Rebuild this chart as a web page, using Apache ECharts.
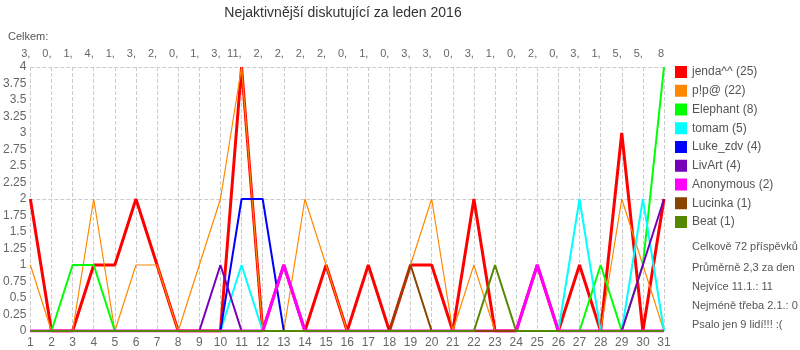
<!DOCTYPE html>
<html><head><meta charset="utf-8">
<script src="https://cdn.jsdelivr.net/npm/echarts@6/dist/echarts.min.js"></script>
<style>html,body{margin:0;padding:0;background:#fff}#c{width:800px;height:350px}</style>
</head><body><div id="c"></div>
<script>
const days = ['1','2','3','4','5','6','7','8','9','10','11','12','13','14','15','16','17','18','19','20','21','22','23','24','25','26','27','28','29','30','31'];
const totals = [3,0,1,4,1,3,2,0,1,3,11,2,2,2,2,0,1,0,3,3,0,3,1,0,2,0,3,1,5,5,8];
const names = ['jenda^^','p!p@','Elephant','tomam','Luke_zdv','LivArt','Anonymous','Lucinka','Beat'];
const jenda    = [2,0,0,1,1,2,1,0,0,0,4,0,1,0,1,0,1,0,1,1,0,2,0,0,1,0,1,0,3,0,2];
const pip      = [1,0,0,2,0,1,1,0,1,2,4,0,0,2,1,0,0,0,1,2,0,1,0,0,0,0,0,0,2,1,0];
const elephant = [0,0,1,1,0,0,0,0,0,0,0,0,0,0,0,0,0,0,0,0,0,0,0,0,0,0,0,1,0,1,4];
const tomam    = [0,0,0,0,0,0,0,0,0,0,1,0,0,0,0,0,0,0,0,0,0,0,0,0,0,0,2,0,0,2,0];
const luke     = [0,0,0,0,0,0,0,0,0,0,2,2,0,0,0,0,0,0,0,0,0,0,0,0,0,0,0,0,0,0,0];
const livart   = [0,0,0,0,0,0,0,0,0,1,0,0,0,0,0,0,0,0,0,0,0,0,0,0,0,0,0,0,0,1,2];
const anonym   = [0,0,0,0,0,0,0,0,0,0,0,0,1,0,0,0,0,0,0,0,0,0,0,0,1,0,0,0,0,0,0];
const lucinka  = [0,0,0,0,0,0,0,0,0,0,0,0,0,0,0,0,0,0,1,0,0,0,0,0,0,0,0,0,0,0,0];
const beat     = [0,0,0,0,0,0,0,0,0,0,0,0,0,0,0,0,0,0,0,0,0,0,1,0,0,0,0,0,0,0,0];
const seriesData = [jenda,pip,elephant,tomam,luke,livart,anonym,lucinka,beat];
const colors = ['#ff0000','#ff8800','#00ff00','#00ffff','#0000ff','#7700bb','#ff00ff','#884400','#558800'];
const widths = [3,1.2,2,2,2,2,3,2,2];
const statLines = ['Celkově 72 příspěvků','Průměrně 2,3 za den','Nejvíce 11.1.: 11','Nejméně třeba 2.1.: 0','Psalo jen 9 lidí!!! :('];
const statY = [247,268,287,306,325];

const FONT = 'Liberation Sans, Arial, sans-serif';
const chart = echarts.init(document.getElementById('c'));
const labels = names.map((n,i)=> n + ' (' + seriesData[i].reduce((a,b)=>a+b,0) + ')');
chart.setOption({
  animation:false,
  textStyle:{fontFamily:FONT},
  grid:{left:28,right:136,top:67,bottom:19,containLabel:false},
  legend:{orient:'vertical',left:670,top:61,itemWidth:12,itemHeight:12,itemGap:6.75,icon:'rect',
    textStyle:{fontSize:12,color:'#555',fontFamily:FONT},data:labels},
  xAxis:[{type:'category',data:days,boundaryGap:false,position:'bottom',
      axisLine:{show:false},axisTick:{show:false},
      axisLabel:{interval:0,fontSize:12,color:'#666',margin:6,fontFamily:FONT},
      splitLine:{show:true,interval:0,lineStyle:{type:'dashed',color:'#ccc',width:1}}},
    {type:'category',data:days,boundaryGap:false,position:'top',
      axisLine:{show:false},axisTick:{show:false},
      axisLabel:{interval:0,fontSize:11,color:'#666',margin:8,align:'right',fontFamily:FONT,
        formatter:(v,i)=> i<totals.length-1 ? totals[i]+',' : String(totals[i])},
      splitLine:{show:false}}],
  yAxis:[{type:'value',min:0,max:4,interval:0.25,
      axisLine:{show:false},axisTick:{show:false},
      axisLabel:{fontSize:12,color:'#666',margin:4,fontFamily:FONT},
      splitLine:{show:false}},
    {type:'value',min:0,max:4,interval:2,position:'left',
      axisLine:{show:false},axisTick:{show:false},axisLabel:{show:false},
      splitLine:{show:true,lineStyle:{type:'dashed',color:'#ccc',width:1}}}],
  series: seriesData.map((d,i)=>({name:labels[i],type:'line',data:d,xAxisIndex:0,yAxisIndex:0,
    symbol:'none',color:colors[i],lineStyle:{width:widths[i],color:colors[i]}})),
  graphic:[
    {type:'text',x:343,y:13,style:{text:'Nejaktivnější diskutující za leden 2016',font:'14px '+FONT,fill:'#333',textAlign:'center',textVerticalAlign:'middle'}},
    {type:'text',x:8,y:37,style:{text:'Celkem:',font:'11px '+FONT,fill:'#555',textAlign:'left',textVerticalAlign:'middle'}}
  ].concat(statLines.map((t,i)=>({type:'text',x:692,y:statY[i],style:{text:t,font:'11px '+FONT,fill:'#555',textAlign:'left',textVerticalAlign:'middle'}})))
});
</script></body></html>
